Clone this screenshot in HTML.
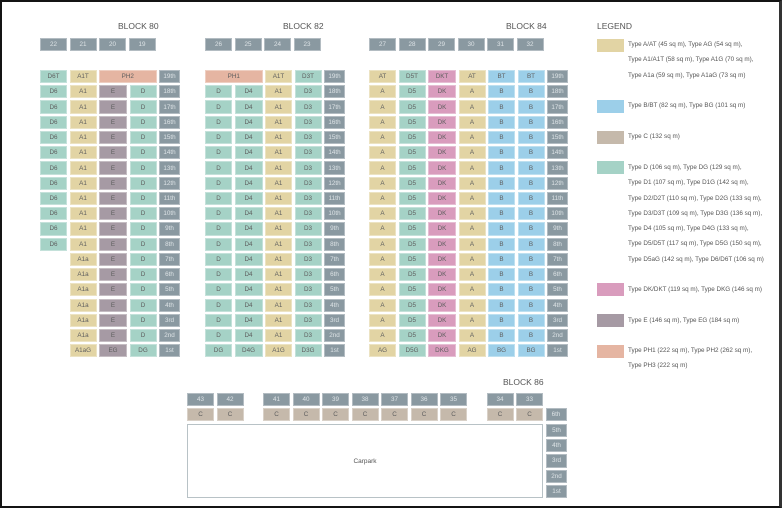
<!DOCTYPE html>
<html><head><meta charset="utf-8"><style>
*{margin:0;padding:0;box-sizing:border-box}
body{width:782px;height:508px;background:#fff;position:relative;overflow:hidden;font-family:"Liberation Sans",sans-serif}
.frame{position:absolute;left:0;top:0;width:782px;height:508px;border:2px solid #141414;border-right:3px solid #333}
.blk{position:absolute;display:grid;column-gap:2.5px;row-gap:2.05px;grid-auto-rows:13.2px}
.blk div{font-size:6.3px;color:#5e5e5e;display:flex;align-items:center;justify-content:center;border:1px solid rgba(255,255,255,.35)}
.t{background:#e2d4a4}.g{background:#a5d2c6}.e{background:#a69aa4}.k{background:#d99cbd}.b{background:#9ccfe9}.p{background:#e5b5a2}.c{background:#c5b9ab}
.f,.n{background:#8a99a1;color:#dde3e6!important}
.x{background:none;border:none!important}
.s2{grid-column:span 2}
.title{position:absolute;font-size:8.5px;color:#555}
.sw{position:absolute;left:597px;width:27px;height:13px}
.lt{position:absolute;left:628px;font-size:6.3px;color:#555;line-height:15.3px;white-space:nowrap}
.carpark{position:absolute;left:187px;top:424px;width:356px;height:74px;border:1.5px solid #b8c2c6;font-size:6.5px;color:#555;display:flex;align-items:center;justify-content:center}
</style></head><body>
<div class="frame"></div>
<div class="title" style="left:118px;top:21px">BLOCK 80</div>
<div class="title" style="left:283px;top:21px">BLOCK 82</div>
<div class="title" style="left:506px;top:21px">BLOCK 84</div>
<div class="title" style="left:503px;top:377px">BLOCK 86</div>
<div class="title" style="left:597px;top:21px">LEGEND</div>

<div class="blk" style="left:40px;top:38px;grid-template-columns:repeat(4,27px)"><div class="n">22</div><div class="n">21</div><div class="n">20</div><div class="n">19</div></div>
<div class="blk" style="left:205px;top:38px;grid-template-columns:repeat(4,27px)"><div class="n">26</div><div class="n">25</div><div class="n">24</div><div class="n">23</div></div>
<div class="blk" style="left:369px;top:38px;grid-template-columns:repeat(6,27px)"><div class="n">27</div><div class="n">28</div><div class="n">29</div><div class="n">30</div><div class="n">31</div><div class="n">32</div></div>

<div class="blk" style="left:40px;top:70px;grid-template-columns:27px 27px 28px 27px 21px">
<div class="g">D6T</div><div class="t">A1T</div><div class="p s2">PH2</div><div class="f">19th</div>
<div class="g">D6</div><div class="t">A1</div><div class="e">E</div><div class="g">D</div><div class="f">18th</div>
<div class="g">D6</div><div class="t">A1</div><div class="e">E</div><div class="g">D</div><div class="f">17th</div>
<div class="g">D6</div><div class="t">A1</div><div class="e">E</div><div class="g">D</div><div class="f">16th</div>
<div class="g">D6</div><div class="t">A1</div><div class="e">E</div><div class="g">D</div><div class="f">15th</div>
<div class="g">D6</div><div class="t">A1</div><div class="e">E</div><div class="g">D</div><div class="f">14th</div>
<div class="g">D6</div><div class="t">A1</div><div class="e">E</div><div class="g">D</div><div class="f">13th</div>
<div class="g">D6</div><div class="t">A1</div><div class="e">E</div><div class="g">D</div><div class="f">12th</div>
<div class="g">D6</div><div class="t">A1</div><div class="e">E</div><div class="g">D</div><div class="f">11th</div>
<div class="g">D6</div><div class="t">A1</div><div class="e">E</div><div class="g">D</div><div class="f">10th</div>
<div class="g">D6</div><div class="t">A1</div><div class="e">E</div><div class="g">D</div><div class="f">9th</div>
<div class="g">D6</div><div class="t">A1</div><div class="e">E</div><div class="g">D</div><div class="f">8th</div>
<div class="x"></div><div class="t">A1a</div><div class="e">E</div><div class="g">D</div><div class="f">7th</div>
<div class="x"></div><div class="t">A1a</div><div class="e">E</div><div class="g">D</div><div class="f">6th</div>
<div class="x"></div><div class="t">A1a</div><div class="e">E</div><div class="g">D</div><div class="f">5th</div>
<div class="x"></div><div class="t">A1a</div><div class="e">E</div><div class="g">D</div><div class="f">4th</div>
<div class="x"></div><div class="t">A1a</div><div class="e">E</div><div class="g">D</div><div class="f">3rd</div>
<div class="x"></div><div class="t">A1a</div><div class="e">E</div><div class="g">D</div><div class="f">2nd</div>
<div class="x"></div><div class="t">A1aG</div><div class="e">EG</div><div class="g">DG</div><div class="f">1st</div>
</div>

<div class="blk" style="left:205px;top:70px;grid-template-columns:27px 28px 27px 27px 21px">
<div class="p s2">PH1</div><div class="t">A1T</div><div class="g">D3T</div><div class="f">19th</div>
<div class="g">D</div><div class="g">D4</div><div class="t">A1</div><div class="g">D3</div><div class="f">18th</div>
<div class="g">D</div><div class="g">D4</div><div class="t">A1</div><div class="g">D3</div><div class="f">17th</div>
<div class="g">D</div><div class="g">D4</div><div class="t">A1</div><div class="g">D3</div><div class="f">16th</div>
<div class="g">D</div><div class="g">D4</div><div class="t">A1</div><div class="g">D3</div><div class="f">15th</div>
<div class="g">D</div><div class="g">D4</div><div class="t">A1</div><div class="g">D3</div><div class="f">14th</div>
<div class="g">D</div><div class="g">D4</div><div class="t">A1</div><div class="g">D3</div><div class="f">13th</div>
<div class="g">D</div><div class="g">D4</div><div class="t">A1</div><div class="g">D3</div><div class="f">12th</div>
<div class="g">D</div><div class="g">D4</div><div class="t">A1</div><div class="g">D3</div><div class="f">11th</div>
<div class="g">D</div><div class="g">D4</div><div class="t">A1</div><div class="g">D3</div><div class="f">10th</div>
<div class="g">D</div><div class="g">D4</div><div class="t">A1</div><div class="g">D3</div><div class="f">9th</div>
<div class="g">D</div><div class="g">D4</div><div class="t">A1</div><div class="g">D3</div><div class="f">8th</div>
<div class="g">D</div><div class="g">D4</div><div class="t">A1</div><div class="g">D3</div><div class="f">7th</div>
<div class="g">D</div><div class="g">D4</div><div class="t">A1</div><div class="g">D3</div><div class="f">6th</div>
<div class="g">D</div><div class="g">D4</div><div class="t">A1</div><div class="g">D3</div><div class="f">5th</div>
<div class="g">D</div><div class="g">D4</div><div class="t">A1</div><div class="g">D3</div><div class="f">4th</div>
<div class="g">D</div><div class="g">D4</div><div class="t">A1</div><div class="g">D3</div><div class="f">3rd</div>
<div class="g">D</div><div class="g">D4</div><div class="t">A1</div><div class="g">D3</div><div class="f">2nd</div>
<div class="g">DG</div><div class="g">D4G</div><div class="t">A1G</div><div class="g">D3G</div><div class="f">1st</div>
</div>

<div class="blk" style="left:369px;top:70px;grid-template-columns:27px 27px 28px 27px 27px 27px 21px">
<div class="t">AT</div><div class="g">D5T</div><div class="k">DKT</div><div class="t">AT</div><div class="b">BT</div><div class="b">BT</div><div class="f">19th</div>
<div class="t">A</div><div class="g">D5</div><div class="k">DK</div><div class="t">A</div><div class="b">B</div><div class="b">B</div><div class="f">18th</div>
<div class="t">A</div><div class="g">D5</div><div class="k">DK</div><div class="t">A</div><div class="b">B</div><div class="b">B</div><div class="f">17th</div>
<div class="t">A</div><div class="g">D5</div><div class="k">DK</div><div class="t">A</div><div class="b">B</div><div class="b">B</div><div class="f">16th</div>
<div class="t">A</div><div class="g">D5</div><div class="k">DK</div><div class="t">A</div><div class="b">B</div><div class="b">B</div><div class="f">15th</div>
<div class="t">A</div><div class="g">D5</div><div class="k">DK</div><div class="t">A</div><div class="b">B</div><div class="b">B</div><div class="f">14th</div>
<div class="t">A</div><div class="g">D5</div><div class="k">DK</div><div class="t">A</div><div class="b">B</div><div class="b">B</div><div class="f">13th</div>
<div class="t">A</div><div class="g">D5</div><div class="k">DK</div><div class="t">A</div><div class="b">B</div><div class="b">B</div><div class="f">12th</div>
<div class="t">A</div><div class="g">D5</div><div class="k">DK</div><div class="t">A</div><div class="b">B</div><div class="b">B</div><div class="f">11th</div>
<div class="t">A</div><div class="g">D5</div><div class="k">DK</div><div class="t">A</div><div class="b">B</div><div class="b">B</div><div class="f">10th</div>
<div class="t">A</div><div class="g">D5</div><div class="k">DK</div><div class="t">A</div><div class="b">B</div><div class="b">B</div><div class="f">9th</div>
<div class="t">A</div><div class="g">D5</div><div class="k">DK</div><div class="t">A</div><div class="b">B</div><div class="b">B</div><div class="f">8th</div>
<div class="t">A</div><div class="g">D5</div><div class="k">DK</div><div class="t">A</div><div class="b">B</div><div class="b">B</div><div class="f">7th</div>
<div class="t">A</div><div class="g">D5</div><div class="k">DK</div><div class="t">A</div><div class="b">B</div><div class="b">B</div><div class="f">6th</div>
<div class="t">A</div><div class="g">D5</div><div class="k">DK</div><div class="t">A</div><div class="b">B</div><div class="b">B</div><div class="f">5th</div>
<div class="t">A</div><div class="g">D5</div><div class="k">DK</div><div class="t">A</div><div class="b">B</div><div class="b">B</div><div class="f">4th</div>
<div class="t">A</div><div class="g">D5</div><div class="k">DK</div><div class="t">A</div><div class="b">B</div><div class="b">B</div><div class="f">3rd</div>
<div class="t">A</div><div class="g">D5</div><div class="k">DK</div><div class="t">A</div><div class="b">B</div><div class="b">B</div><div class="f">2nd</div>
<div class="t">AG</div><div class="g">D5G</div><div class="k">DKG</div><div class="t">AG</div><div class="b">BG</div><div class="b">BG</div><div class="f">1st</div>
</div>

<!-- Block 86 -->
<div class="blk" style="left:187px;top:393px;grid-template-columns:27px 27px 14.5px 27px 27px 27px 27px 27px 27px 27px 14.5px 27px 27px 21px">
<div class="n">43</div><div class="n">42</div><div class="x"></div><div class="n">41</div><div class="n">40</div><div class="n">39</div><div class="n">38</div><div class="n">37</div><div class="n">36</div><div class="n">35</div><div class="x"></div><div class="n">34</div><div class="n">33</div><div class="x"></div>
<div class="c">C</div><div class="c">C</div><div class="x"></div><div class="c">C</div><div class="c">C</div><div class="c">C</div><div class="c">C</div><div class="c">C</div><div class="c">C</div><div class="c">C</div><div class="x"></div><div class="c">C</div><div class="c">C</div><div class="f">6th</div>
</div>
<div class="blk" style="left:546px;top:424px;grid-template-columns:21px;row-gap:2px">
<div class="f">5th</div><div class="f">4th</div><div class="f">3rd</div><div class="f">2nd</div><div class="f">1st</div>
</div>
<div class="carpark">Carpark</div>

<!-- Legend -->
<div class="sw t" style="top:39px"></div>
<div class="lt" style="top:37px">Type A/AT (45 sq m), Type AG (54 sq m),<br>Type A1/A1T (58 sq m), Type A1G (70 sq m),<br>Type A1a (59 sq m), Type A1aG (73 sq m)</div>
<div class="sw b" style="top:100px"></div>
<div class="lt" style="top:98px">Type B/BT (82 sq m), Type BG (101 sq m)</div>
<div class="sw c" style="top:131px"></div>
<div class="lt" style="top:129px">Type C (132 sq m)</div>
<div class="sw g" style="top:161px"></div>
<div class="lt" style="top:160px">Type D (106 sq m), Type DG (129 sq m),<br>Type D1 (107 sq m), Type D1G (142 sq m),<br>Type D2/D2T (110 sq m), Type D2G (133 sq m),<br>Type D3/D3T (109 sq m), Type D3G (136 sq m),<br>Type D4 (105 sq m), Type D4G (133 sq m),<br>Type D5/D5T (117 sq m), Type D5G (150 sq m),<br>Type D5aG (142 sq m), Type D6/D6T (106 sq m)</div>
<div class="sw k" style="top:283px"></div>
<div class="lt" style="top:282px">Type DK/DKT (119 sq m), Type DKG (146 sq m)</div>
<div class="sw e" style="top:314px"></div>
<div class="lt" style="top:313px">Type E (146 sq m), Type EG (184 sq m)</div>
<div class="sw p" style="top:345px"></div>
<div class="lt" style="top:343px">Type PH1 (222 sq m), Type PH2 (262 sq m),<br>Type PH3 (222 sq m)</div>
</body></html>
